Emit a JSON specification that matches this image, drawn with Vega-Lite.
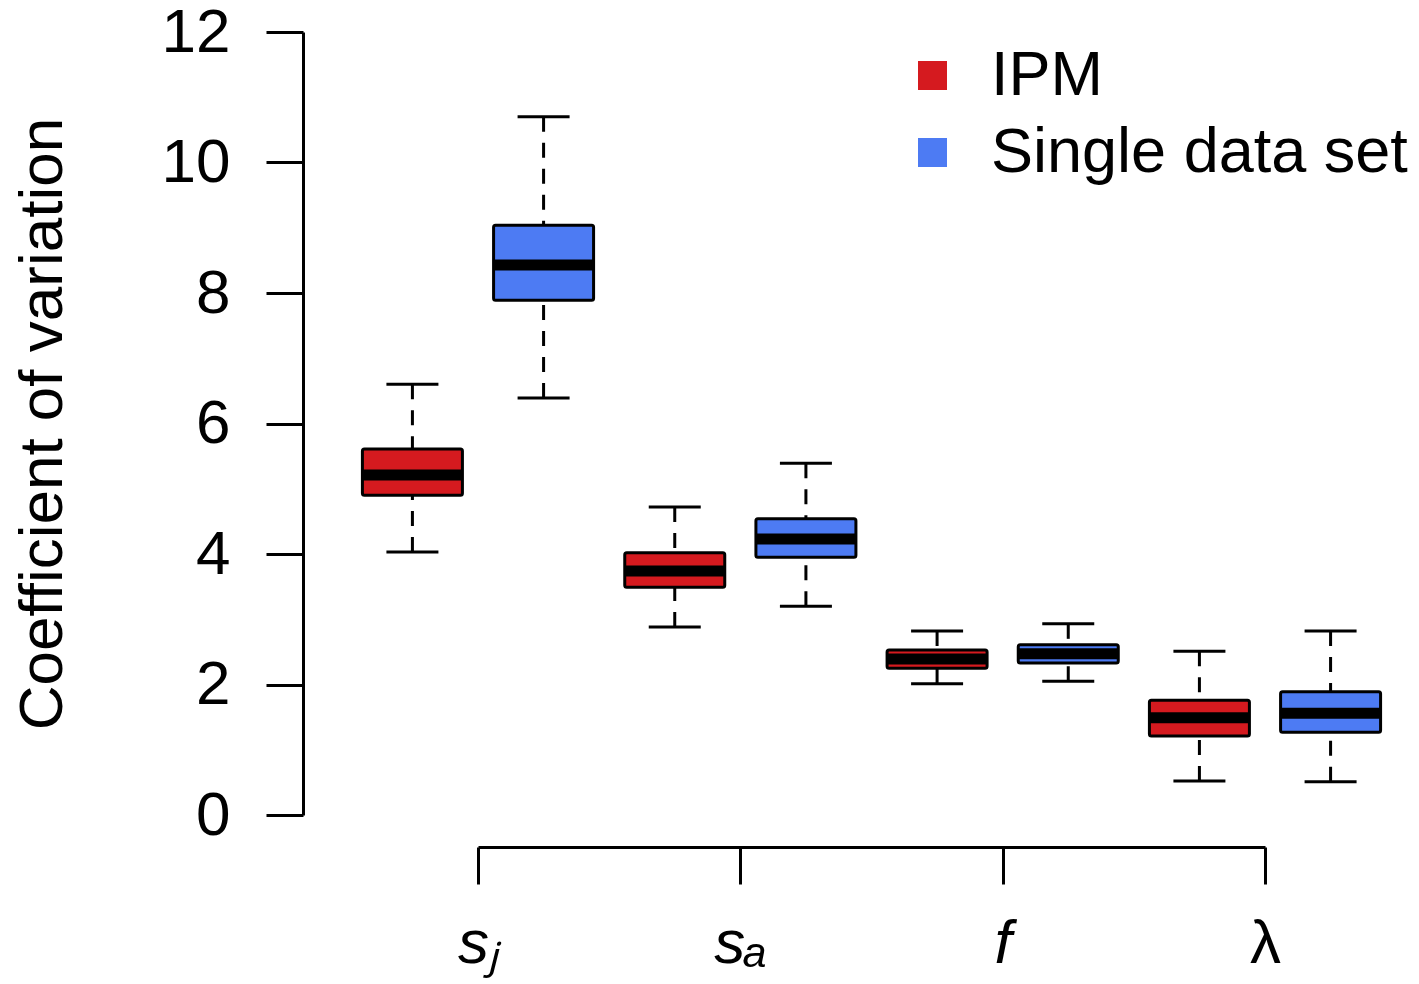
{
  "$schema": "https://vega.github.io/schema/vega-lite/v6.json",
  "autosize": "none",
  "padding": {"left": 478, "top": 32, "right": 154, "bottom": 169},
  "width": 787,
  "height": 783,
  "background": "white",
  "config": {"view": {"stroke": null}, "font": "Liberation Sans"},
  "data": {"values": [
    {"pos": 1, "param": "sj", "group": "IPM", "lo": 4.03, "q1": 4.90, "med": 5.21, "q3": 5.61, "hi": 6.60},
    {"pos": 2, "param": "sj", "group": "Single data set", "lo": 6.39, "q1": 7.89, "med": 8.43, "q3": 9.04, "hi": 10.70},
    {"pos": 3, "param": "sa", "group": "IPM", "lo": 2.88, "q1": 3.49, "med": 3.74, "q3": 4.02, "hi": 4.72},
    {"pos": 4, "param": "sa", "group": "Single data set", "lo": 3.20, "q1": 3.95, "med": 4.23, "q3": 4.54, "hi": 5.39},
    {"pos": 5, "param": "f", "group": "IPM", "lo": 2.01, "q1": 2.25, "med": 2.39, "q3": 2.53, "hi": 2.82},
    {"pos": 6, "param": "f", "group": "Single data set", "lo": 2.05, "q1": 2.33, "med": 2.47, "q3": 2.61, "hi": 2.93},
    {"pos": 7, "param": "lambda", "group": "IPM", "lo": 0.52, "q1": 1.21, "med": 1.49, "q3": 1.76, "hi": 2.51},
    {"pos": 8, "param": "lambda", "group": "Single data set", "lo": 0.51, "q1": 1.27, "med": 1.56, "q3": 1.89, "hi": 2.82}
  ]},
  "encoding": {
    "x": {
      "field": "pos", "type": "quantitative",
      "scale": {"domain": [1.5, 7.5], "nice": false, "zero": false, "padding": 0},
      "axis": {
        "title": null,
        "values": [1.5, 3.5, 5.5, 7.5],
        "labelExpr": "datum.value == 1.5 ? 'sⱼ' : datum.value == 3.5 ? 'sₐ' : datum.value == 5.5 ? 'f' : 'λ'",
        "offset": 32,
        "grid": false,
        "domainColor": "black", "domainWidth": 3,
        "tickColor": "black", "tickWidth": 3, "tickSize": 37,
        "labelFont": "Liberation Sans",
        "labelFontStyle": {"condition": {"test": "datum.value == 7.5", "value": "normal"}, "value": "italic"},
        "labelFontSize": 62,
        "labelColor": "black", "labelPadding": 29, "labelBaseline": "top",
        "labelFlush": false, "labelOverlap": false
      }
    },
    "y": {
      "type": "quantitative",
      "scale": {"domain": [0, 12], "nice": false, "zero": false, "padding": 0}
    }
  },
  "layer": [
    {
      "mark": {"type": "rule", "strokeDash": [15, 11], "strokeWidth": 3, "color": "black"},
      "encoding": {
        "y": {"field": "hi", "type": "quantitative",
          "axis": {
            "title": "Coefficient of variation",
            "values": [0, 2, 4, 6, 8, 10, 12],
            "format": "d",
            "offset": 175,
            "grid": false,
            "domainColor": "black", "domainWidth": 3,
            "tickColor": "black", "tickWidth": 3, "tickSize": 37,
            "labelFont": "Liberation Sans", "labelFontSize": 62, "labelColor": "black",
            "labelPadding": 36, "labelFlush": false, "labelOverlap": false,
            "titleFont": "Liberation Sans", "titleFontSize": 62, "titleFontWeight": "normal",
            "titleColor": "black", "titlePadding": 87
          }
        },
        "y2": {"field": "q3"}
      }
    },
    {
      "mark": {"type": "rule", "strokeDash": [15, 11], "strokeWidth": 3, "color": "black"},
      "encoding": {
        "y": {"field": "lo", "type": "quantitative"},
        "y2": {"field": "q1"}
      }
    },
    {
      "mark": {"type": "tick", "orient": "horizontal", "size": 52, "thickness": 3, "color": "black", "opacity": 1},
      "encoding": {"y": {"field": "hi", "type": "quantitative"}}
    },
    {
      "mark": {"type": "tick", "orient": "horizontal", "size": 52, "thickness": 3, "color": "black", "opacity": 1},
      "encoding": {"y": {"field": "lo", "type": "quantitative"}}
    },
    {
      "mark": {"type": "bar", "size": 100, "stroke": "black", "strokeWidth": 3, "cornerRadius": 2, "opacity": 1},
      "encoding": {
        "y": {"field": "q1", "type": "quantitative"},
        "y2": {"field": "q3"},
        "color": {
          "field": "group", "type": "nominal",
          "scale": {"domain": ["IPM", "Single data set"], "range": ["#D51A1F", "#4D7BF3"]},
          "legend": {
            "title": null, "orient": "none", "legendX": 423, "legendY": 12,
            "symbolType": "square", "symbolSize": 841, "symbolStrokeWidth": 0, "symbolOpacity": 1,
            "labelFont": "Liberation Sans", "labelFontSize": 63, "labelColor": "black",
            "labelOffset": 27, "rowPadding": 13, "padding": 0, "labelLimit": 1000
          }
        }
      }
    },
    {
      "mark": {"type": "tick", "orient": "horizontal", "size": 100, "thickness": 11, "color": "black", "opacity": 1},
      "encoding": {"y": {"field": "med", "type": "quantitative"}}
    }
  ]
}
